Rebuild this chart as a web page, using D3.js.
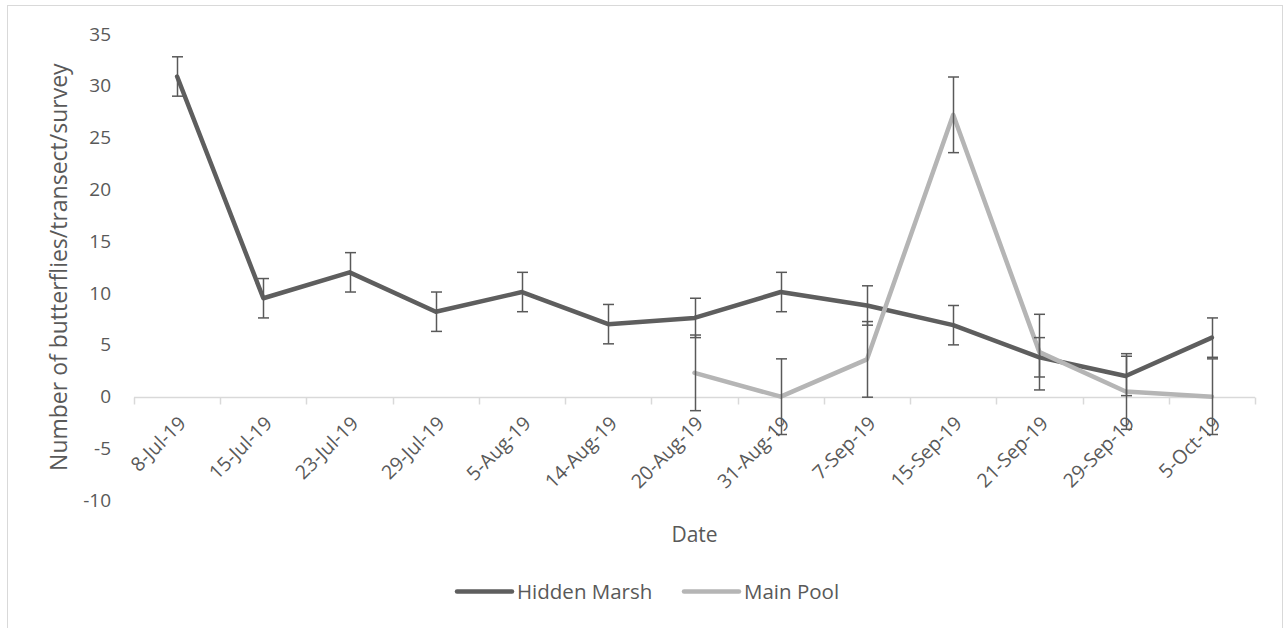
<!DOCTYPE html>
<html>
<head>
<meta charset="utf-8">
<script src="https://cdn.jsdelivr.net/npm/d3@7/dist/d3.min.js"></script>
<style>
  html, body { margin: 0; padding: 0; background: #fff; }
  svg text { font-family: "Open Sans", "Noto Sans", sans-serif; fill: #595959; }
</style>
</head>
<body>
<svg id="chart" width="1284" height="628"></svg>
<script>
// Survey dates (category axis)
const dates = ["8-Jul-19", "15-Jul-19", "23-Jul-19", "29-Jul-19", "5-Aug-19", "14-Aug-19",
  "20-Aug-19", "31-Aug-19", "7-Sep-19", "15-Sep-19", "21-Sep-19", "29-Sep-19", "5-Oct-19"];

// Mean butterflies per transect per survey
const hiddenMarsh = [30.9, 9.5, 12.0, 8.2, 10.1, 7.0, 7.6, 10.1, 8.8, 6.9, 3.8, 2.0, 5.7];
const mainPool = [null, null, null, null, null, null, 2.3, 0.0, 3.6, 27.2, 4.3, 0.5, 0.0];

// Standard error of each point
const hiddenMarshErr = [1.9, 1.9, 1.9, 1.9, 1.9, 1.9, 1.9, 1.9, 1.9, 1.9, 1.9, 1.9, 1.9];
const mainPoolErr = [null, null, null, null, null, null, 3.65, 3.65, 3.65, 3.65, 3.65, 3.65, 3.65];

const yTicks = [-10, -5, 0, 5, 10, 15, 20, 25, 30, 35];
const seriesNames = ["Hidden Marsh", "Main Pool"];

const series = [
  { name: seriesNames[0], values: hiddenMarsh, errs: hiddenMarshErr, color: "#5e5e5e" },
  { name: seriesNames[1], values: mainPool, errs: mainPoolErr, color: "#b5b5b5" }
];

const svg = d3.select("#chart");

// Outer chart frame
svg.append("rect")
  .attr("x", 7.5).attr("y", 5.5).attr("width", 1275).attr("height", 640)
  .attr("fill", "none").attr("stroke", "#d9d9d9").attr("stroke-width", 1);

const x = d3.scaleBand().domain(dates).range([134, 1255]).padding(0);
const y = d3.scaleLinear().domain([-10, 35]).range([500.3, 34]);
const cx = d => x(d) + x.bandwidth() / 2;

// Value axis labels (no axis line), plain hyphen for negatives
const yAxis = svg.append("g")
  .attr("transform", "translate(134,0)")
  .call(d3.axisLeft(y).tickValues(yTicks).tickSize(0).tickPadding(23).tickFormat(d => String(d)));
yAxis.select(".domain").remove();
yAxis.selectAll("text")
  .style("font-family", "\"Open Sans\", sans-serif")
  .style("font-size", "19px").attr("fill", "#595959");

// Category axis line at zero with ticks at band boundaries
const zeroY = Math.round(y(0)) + 0.5;
const catAxis = svg.append("g");
catAxis.append("line")
  .attr("x1", x.range()[0]).attr("x2", x.range()[1])
  .attr("y1", zeroY).attr("y2", zeroY)
  .attr("stroke", "#d9d9d9").attr("stroke-width", 1.5);
const bounds = dates.map(d => x(d)).concat([x.range()[1]]);
catAxis.selectAll("line.tick").data(bounds).enter().append("line")
  .attr("class", "tick")
  .attr("x1", d => Math.round(d) + 0.5).attr("x2", d => Math.round(d) + 0.5)
  .attr("y1", zeroY).attr("y2", zeroY + 7)
  .attr("stroke", "#d9d9d9").attr("stroke-width", 1.5);
catAxis.selectAll("text").data(dates).enter().append("text")
  .attr("text-anchor", "end")
  .attr("font-size", 19.5)
  .attr("transform", d => `translate(${cx(d) + 10},${zeroY + 27}) rotate(-45)`)
  .text(d => d);

// Axis titles
svg.append("text")
  .attr("text-anchor", "middle").attr("font-size", 23)
  .attr("transform", `translate(67,${(y(35) + y(-10)) / 2}) rotate(-90)`)
  .text("Number of butterflies/transect/survey");
svg.append("text")
  .attr("text-anchor", "middle").attr("font-size", 21)
  .attr("x", (x.range()[0] + x.range()[1]) / 2).attr("y", 542)
  .text("Date");

// Series lines
const line = d3.line()
  .defined(d => d.v !== null)
  .x(d => cx(d.date)).y(d => y(d.v));

series.forEach(s => {
  const pts = dates.map((date, i) => ({ date, v: s.values[i], e: s.errs[i] }));
  svg.append("path")
    .datum(pts)
    .attr("fill", "none").attr("stroke", s.color)
    .attr("stroke-width", 4.5).attr("stroke-linejoin", "round").attr("stroke-linecap", "round")
    .attr("d", line);
  s.pts = pts.filter(p => p.v !== null);
});

// Error bars drawn over both lines
const cap = 5.5;
series.forEach(s => {
  const g = svg.append("g").attr("stroke", "#595959").attr("stroke-width", 1.5);
  s.pts.forEach(p => {
    const px = Math.round(cx(p.date)) + 0.5;
    const top = y(p.v + p.e), bot = y(p.v - p.e);
    g.append("line").attr("x1", px).attr("x2", px).attr("y1", top).attr("y2", bot);
    g.append("line").attr("x1", px - cap).attr("x2", px + cap).attr("y1", top).attr("y2", top);
    g.append("line").attr("x1", px - cap).attr("x2", px + cap).attr("y1", bot).attr("y2", bot);
  });
});

// Legend
const legendItems = [
  { name: seriesNames[0], color: series[0].color, x0: 457 },
  { name: seriesNames[1], color: series[1].color, x0: 684 }
];
const lg = svg.append("g");
legendItems.forEach(it => {
  lg.append("line")
    .attr("x1", it.x0).attr("x2", it.x0 + 55).attr("y1", 591.5).attr("y2", 591.5)
    .attr("stroke", it.color).attr("stroke-width", 4.5).attr("stroke-linecap", "round");
  lg.append("text")
    .attr("x", it.x0 + 60).attr("y", 598.5).attr("font-size", 20.5)
    .text(it.name);
});
</script>
</body>
</html>
